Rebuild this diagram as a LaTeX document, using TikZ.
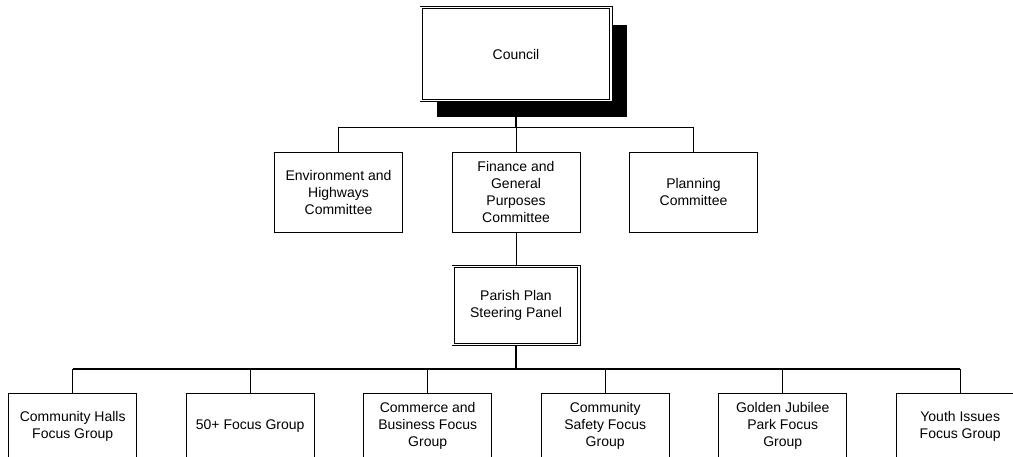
\documentclass[tikz,border=0pt]{standalone}
\usepackage{fontspec}
\setmainfont{Liberation Sans}
\usetikzlibrary{positioning,shadows}

\begin{document}
\begin{tikzpicture}[x=1pt,y=-1pt,
  orgbox/.style={rectangle,draw,fill=white,line width=1pt,inner sep=1pt,align=center,
    font=\fontsize{14}{17}\selectfont},
  dblbox/.style={orgbox,double,line width=0.8pt,double distance=1.6pt},
  link/.style={line width=1pt},
  bus/.style={line width=1.6pt}]
\useasboundingbox (0,0) rectangle (1013,457);
% top level
\node (council) at (516,54) [dblbox,minimum width=189.8pt,minimum height=92.8pt,
  drop shadow={shadow xshift=16pt,shadow yshift=-17pt,fill=black,opacity=1}] {Council};
% committees
\node (env)  at (338.5,192.3) [orgbox,minimum width=128pt,minimum height=79.5pt] {Environment and\\Highways\\Committee};
\node (fin)  at (516,192.3)   [orgbox,minimum width=128pt,minimum height=79.5pt] {Finance and\\General\\Purposes\\Committee};
\node (plan) at (693.5,192.3) [orgbox,minimum width=128pt,minimum height=79.5pt] {Planning\\Committee};
% steering panel
\node (panel) at (516,305.5) [dblbox,minimum width=125.8pt,minimum height=77.8pt] {Parish Plan\\Steering Panel};
% focus groups
\foreach \n/\i/\txt in {hall/0/{Community Halls\\Focus Group},
                        fifty/1/{50+ Focus Group},
                        comm/2/{Commerce and\\Business Focus\\Group},
                        safe/3/{Community\\Safety Focus\\Group},
                        park/4/{Golden Jubilee\\Park Focus\\Group},
                        youth/5/{Youth Issues\\Focus Group}} {
    \node (\n) at ({72.7+177.5*\i},426) [orgbox,minimum width=128pt,minimum height=65pt] {\txt};
}
% connectors
\coordinate (cbus) at (516,127.3);
\draw[bus] (council.south) -- (cbus);
\draw[link] (env.north) |- (cbus) -| (plan.north);
\draw[link] (cbus) -- (fin.north);
\draw[link] (fin.south) -- (panel.north);
\coordinate (pbus) at (516,369);
\draw[bus] (panel.south) -- (pbus);
\draw[bus] (hall.north |- pbus) -- (youth.north |- pbus);
\foreach \n in {hall,fifty,comm,safe,park,youth} {
    \draw[link] (\n.north |- pbus) -- (\n.north);
}
\end{tikzpicture}
\end{document}
